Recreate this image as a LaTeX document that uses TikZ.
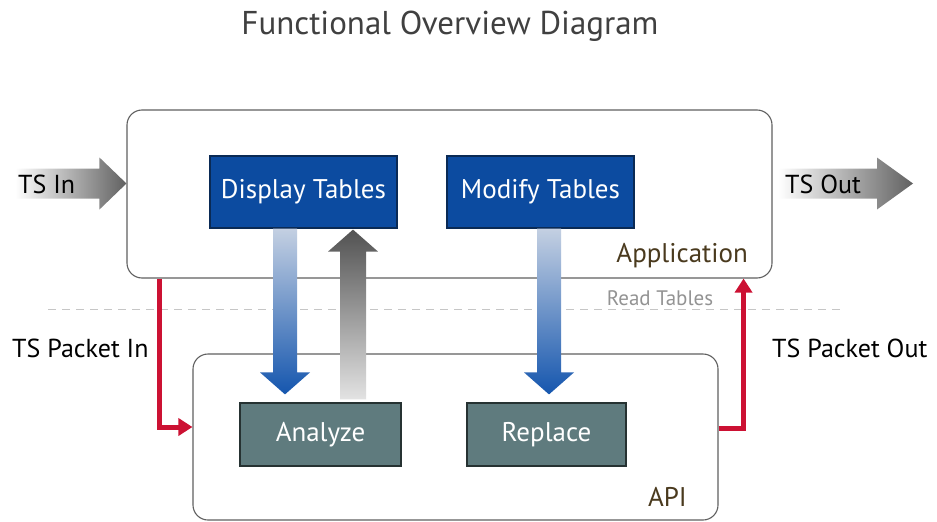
\documentclass[tikz,border=0pt]{standalone}
\usepackage{fontspec}
\setmainfont{PT Sans}
\usetikzlibrary{arrows.meta,calc}
\definecolor{dblue}{HTML}{0C4BA0}
\definecolor{dbluebd}{HTML}{0A2A55}
\definecolor{slate}{HTML}{5F7B7E}
\definecolor{slatebd}{HTML}{263232}
\definecolor{redc}{HTML}{CC1133}
\definecolor{brownc}{HTML}{4A3A1E}
\definecolor{lblue}{HTML}{C4D0E2}
\definecolor{mblue}{HTML}{1556AE}
\pgfdeclareverticalshading{boxshade}{100bp}{color(0bp)=(gray!22); color(14bp)=(white); color(80bp)=(white); color(100bp)=(gray!30)}
\newcommand\myvarrow[5]{%
 \shade[#3] ([shift={(-#5,0)}]#1) -- ([shift={(-#5,-22*#4)}]#2) -- ([shift={(-25,-22*#4)}]#2) -- (#2) -- ([shift={(25,-22*#4)}]#2) -- ([shift={(#5,-22*#4)}]#2) -- ([shift={(#5,0)}]#1) -- cycle;}
\newcommand\myharrow[4]{%
 \shade[#3] ([shift={(0,-15)}]#1) -- ([shift={(-#4,-15)}]#2) -- ([shift={(-#4,-26)}]#2) -- (#2) -- ([shift={(-#4,26)}]#2) -- ([shift={(-#4,15)}]#2) -- ([shift={(0,15)}]#1) -- cycle;}
\begin{document}
\begin{tikzpicture}[x=1pt,y=-1pt,
  bigbox/.style={draw=gray!75!black,line width=1.1pt,rounded corners=15pt,inner sep=0pt,
    shading=boxshade},
  bluebox/.style={draw=dbluebd,line width=1.2pt,fill=dblue,text=white,inner sep=0pt,
    minimum width=187pt,minimum height=72pt,font=\fontsize{27}{30}\selectfont},
  slatebox/.style={draw=slatebd,line width=1.2pt,fill=slate,text=white,inner sep=0pt,
    minimum height=63pt,font=\fontsize{27}{30}\selectfont},
  lbl/.style={inner sep=0pt,font=\fontsize{26}{30}\selectfont},
  redline/.style={draw=redc,line width=5pt,-{Triangle[length=14pt,width=17pt]}},
]
\useasboundingbox (0,0) rectangle (937,522);
\node[inner sep=0pt,text=black!75,font=\fontsize{33}{36}\selectfont] (title) at (450,26) {Functional Overview Diagram};
% dashed line
\coordinate (dl) at (48,309);
\coordinate (dr) at (845,309);
\draw[gray!45,line width=1pt,dash pattern=on 8pt off 6pt] (dl) -- (dr);
% big boxes
\node[bigbox,minimum width=645pt,minimum height=168pt] (app) at (449.5,194) {};
\node[bigbox,minimum width=525pt,minimum height=166pt] (api) at (455.5,437) {};
\node[lbl,anchor=east,text=brownc,font=\fontsize{27}{30}\selectfont] (applbl) at (748,256) {Application};
\node[lbl,anchor=east,text=brownc,font=\fontsize{27}{30}\selectfont] (apilbl) at (687,497) {API};
\node[lbl,text=gray!85,font=\fontsize{21}{24}\selectfont] (read) at (660,298) {Read Tables};
% inner boxes
\node[bluebox] (disp) at (303.5,192) {Display Tables};
\node[bluebox] (mod) at (540.5,192) {Modify Tables};
\node[slatebox,minimum width=161pt] (ana) at (320.5,434.5) {Analyze};
\node[slatebox,minimum width=159pt] (rep) at (546.5,434.5) {Replace};
% vertical arrows
\coordinate (a1s) at ([xshift=-18.5pt]disp.south);
\coordinate (a1t) at ([xshift=-35.5pt,yshift=8pt]ana.north);
\myvarrow{a1s}{a1t}{top color=lblue,bottom color=mblue}{1}{12}
\coordinate (a2s) at ([xshift=32.5pt,yshift=3pt]ana.north);
\coordinate (a2t) at ([xshift=49.5pt,yshift=-1pt]disp.south);
\myvarrow{a2s}{a2t}{top color=black!68,bottom color=gray!22}{-1}{13}
\coordinate (a3s) at ([xshift=8.5pt]mod.south);
\coordinate (a3t) at ([xshift=2.5pt,yshift=8pt]rep.north);
\myvarrow{a3s}{a3t}{top color=lblue,bottom color=mblue}{1}{12}
% horizontal arrows
\coordinate (inS) at (15,183.5);
\coordinate (inT) at (app.west |- inS);
\myharrow{inS}{inT}{left color=white,right color=black!62}{27}
\coordinate (outS) at ([xshift=6pt]app.east |- inS);
\coordinate (outT) at (913,183.5);
\myharrow{outS}{outT}{left color=white,right color=black!62}{36}
\node[lbl,anchor=west] (tsin) at (18,184) {TS In};
\node[lbl,anchor=west] (tsout) at (785,184) {TS Out};
% red arrows
\draw[redline] ([xshift=33pt]app.south west) |- ([yshift=10pt]api.west);
\draw[redline] ([yshift=9pt]api.east) -| ([xshift=-29pt]app.south east);
\node[lbl,anchor=west] (pin) at (12,348) {TS Packet In};
\node[lbl,anchor=west] (pout) at (772,348) {TS Packet Out};
\end{tikzpicture}
\end{document}
